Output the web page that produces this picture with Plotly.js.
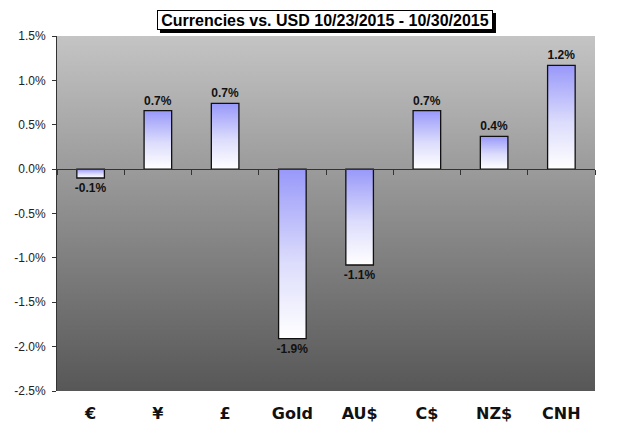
<!DOCTYPE html>
<html><head><meta charset="utf-8">
<script src="https://cdn.plot.ly/plotly-3.0.1.min.js"></script>
<style>body{margin:0;background:#fff}#chart{width:624px;height:440px}</style>
</head><body><div id="chart"></div>
<script>
var categories = ['€', '¥', '£', 'Gold', 'AU$', 'C$', 'NZ$', 'CNH'];
var changes = [-0.10, 0.66, 0.74, -1.91, -1.08, 0.66, 0.37, 1.17];
var yTicks = [1.5, 1.0, 0.5, 0.0, -0.5, -1.0, -1.5, -2.0, -2.5];
var titleText = 'Currencies vs. USD 10/23/2015 - 10/30/2015';

var trace = {
  type: 'bar', x: categories, y: changes,
  marker: {color: '#b8b8ff', line: {color: '#111', width: 1.3}},
  texttemplate: '%{y:.1f}%', textposition: 'outside', cliponaxis: false, constraintext: 'none',
  textfont: {family: 'Liberation Sans, Arial', size: 12, color: '#111', weight: 'bold'},
  hoverinfo: 'none'
};
var helper = {type: 'scatter', x: categories, y: changes, xaxis: 'x2', mode: 'none', hoverinfo: 'none', showlegend: false};

var layout = {
  width: 624, height: 440,
  margin: {l: 57, r: 29, t: 36, b: 49},
  paper_bgcolor: '#fff', plot_bgcolor: '#909090',
  showlegend: false, bargap: 0.59,
  xaxis: {type: 'category', showline: false, ticks: '', showgrid: false,
    tickfont: {family: 'DejaVu Sans', size: 16, color: '#111', weight: 'bold'},
    ticklabelstandoff: 11, fixedrange: true},
  xaxis2: {type: 'category', overlaying: 'x', anchor: 'free', position: 0.625,
    showline: true, linecolor: '#333', linewidth: 1, ticks: 'outside', ticklen: 5,
    tickcolor: '#333', tickson: 'boundaries', showticklabels: false, showgrid: false, matches: 'x'},
  yaxis: {range: [-2.5, 1.5], tickvals: yTicks, ticktext: yTicks.map(function(v){return v.toFixed(1)+'%';}),
    showline: true, linecolor: '#333', linewidth: 1, ticks: 'outside', ticklen: 4, tickcolor: '#333',
    showgrid: false, zeroline: false,
    tickfont: {family: 'Liberation Sans, Arial', size: 12, color: '#222'}, ticklabelstandoff: 4, fixedrange: true},
  shapes: [
    {type: 'rect', xref: 'paper', yref: 'paper', xsizemode: 'pixel', ysizemode: 'pixel',
     xanchor: 0.4981, yanchor: 1, x0: -165, x1: 171, y0: 3, y1: 23,
     fillcolor: '#000', line: {width: 0}, layer: 'above'}
  ],
  annotations: [
    {text: titleText, xref: 'paper', yref: 'paper', x: 0.4981, y: 1, xanchor: 'center', yanchor: 'middle',
     yshift: 16, width: 330, height: 14, showarrow: false,
     font: {family: 'Liberation Sans, Arial', size: 16, color: '#000', weight: 'bold'},
     bgcolor: '#fff', bordercolor: '#000', borderwidth: 1, borderpad: 2}
  ]
};

Plotly.newPlot('chart', [trace, helper], layout, {staticPlot: true}).then(function(gd){
  var ns = 'http://www.w3.org/2000/svg';
  var svg = gd.querySelector('svg.main-svg');
  var defs = svg.querySelector('defs');
  function grad(id, stops){
    var g = document.createElementNS(ns, 'linearGradient');
    g.setAttribute('id', id); g.setAttribute('x1','0'); g.setAttribute('y1','0'); g.setAttribute('x2','0'); g.setAttribute('y2','1');
    stops.forEach(function(s){
      var st = document.createElementNS(ns, 'stop');
      st.setAttribute('offset', s[0]); st.setAttribute('stop-color', s[1]);
      g.appendChild(st);
    });
    defs.appendChild(g);
  }
  grad('bggrad', [['0','#c4c4c4'],['1','#575757']]);
  grad('bargrad', [['0','#9898fa'],['0.55','#dcdcfc'],['1','#ffffff']]);
  var bg = svg.querySelector('.bglayer rect.bg');
  if (bg) bg.style.fill = 'url(#bggrad)';
  svg.querySelectorAll('.trace.bars .point path').forEach(function(p){ p.style.fill = 'url(#bargrad)'; });
});
</script></body></html>
